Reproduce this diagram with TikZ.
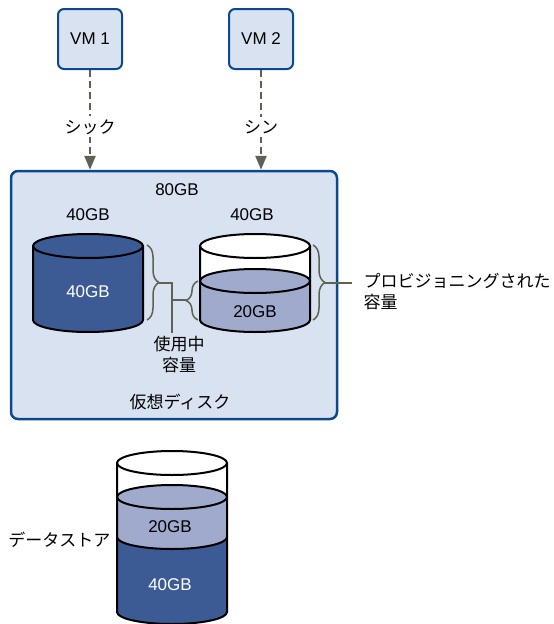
\documentclass[tikz,border=0pt]{standalone}
\usepackage{fontspec}
\setmainfont{Liberation Sans}
\newfontfamily\jpfont{Noto Sans CJK JP}
\usetikzlibrary{arrows.meta,positioning,calc,decorations.pathreplacing}
\definecolor{paleblue}{RGB}{217,226,240}
\definecolor{edgeblue}{RGB}{12,72,140}
\definecolor{diskblue}{RGB}{60,90,148}
\definecolor{usedlilac}{RGB}{160,170,204}
\definecolor{linkgray}{RGB}{95,98,80}

% cylinder pieces: centre x, top y, bottom y, colour
\newcommand{\drumfill}[4]{%
  \fill[#4] (#1-55,#2) rectangle (#1+55,#3);
  \fill[#4] (#1,#3) ellipse [x radius=55, y radius=12];}
\newcommand{\drumlid}[3]{%
  \filldraw[cylline, fill=#3] (#1,#2) ellipse [x radius=55, y radius=12];}
\newcommand{\drumside}[3]{%
  \draw[cylline] (#1-55,#2) -- (#1-55,#3)
    arc [start angle=180, end angle=0, x radius=55, y radius=12] -- (#1+55,#2);}
\newcommand{\drumseam}[2]{%
  \draw[cylline] (#1-55,#2) arc [start angle=180, end angle=0, x radius=55, y radius=12];}

\tikzset{
  every node/.style={font=\fontsize{17}{20}\selectfont},
  jp/.style={font=\fontsize{17}{20.5}\selectfont\jpfont, text=black},
  vmbox/.style={draw=edgeblue, line width=2pt, fill=paleblue, rounded corners=6pt,
    minimum width=64pt, minimum height=60pt},
  provlink/.style={linkgray, line width=2.5pt, dash pattern=on 7pt off 4pt,
    -{Triangle[length=14pt,width=11pt]}},
  bracket/.style={decorate, decoration={brace, amplitude=12pt}, linkgray, line width=1.5pt},
  pointer/.style={linkgray, line width=1.5pt},
  cylline/.style={draw=black, line width=2pt},
}

\begin{document}
\begin{tikzpicture}[x=1pt, y=-1pt]
\useasboundingbox (0,0) rectangle (554,624);

% virtual machines
\node[vmbox] (vm1) at (90,39) {VM 1};
\node[vmbox] (vm2) at (261,39) {VM 2};

% virtual disk panel
\node[draw=edgeblue, line width=2.5pt, fill=paleblue, rounded corners=7pt,
  minimum width=326pt, minimum height=248pt] (vdisk) at (174,295) {};
\node (total) at (177,190) {80GB};
\node (thicksize) at (88,215) {40GB};
\node (thinsize) at (252,215) {40GB};
\node[jp] (vdisklbl) at (180,402) {仮想ディスク};

\draw[provlink] (vm1) -- (vm1 |- vdisk.north)
  node[jp, pos=0.57, fill=white, inner sep=3pt] (thicklbl) {シック};
\draw[provlink] (vm2) -- (vm2 |- vdisk.north)
  node[jp, pos=0.57, fill=white, inner sep=3pt] (thinlbl) {シン};

% thick disk
\drumfill{88}{246}{320}{diskblue}
\drumlid{88}{246}{diskblue}
\drumside{88}{246}{320}
\node[white] (thickused) at (88,292) {40GB};

% thin disk
\drumfill{255}{281}{320}{usedlilac}
\drumfill{255}{246}{281}{white}
\drumlid{255}{281}{usedlilac}
\drumlid{255}{246}{white}
\drumside{255}{246}{320}
\node (thinused) at (255,312) {20GB};

% provisioned capacity
\draw[bracket] (313,245) -- (313,320);
\coordinate (provtip) at (325,283);
\node[jp, anchor=north west, align=left] (provlbl) at (360,270) {プロビジョニングされた\\容量};
\draw[pointer] (provtip) -- ($(provlbl.west |- provtip)+(-8,0)$);

% used capacity
\draw[bracket] (147,245) -- (147,320);
\draw[bracket] (198,320) -- (198,281);
\coordinate (usedtip1) at (159,283);
\coordinate (usedtip2) at (186,300);
\coordinate (usedjoin) at (172,283);
\node[jp, align=center, anchor=north] (usedlbl) at (179,333) {使用中\\容量};
\draw[pointer] (usedtip1) -- (usedjoin) -- (usedjoin |- usedlbl.north);
\draw[pointer] (usedjoin |- usedtip2) -- (usedtip2);

% datastore
\drumfill{172}{537}{612}{diskblue}
\drumfill{172}{497}{537}{usedlilac}
\drumfill{172}{463}{497}{white}
\drumseam{172}{537}
\drumlid{172}{497}{usedlilac}
\drumlid{172}{463}{white}
\drumside{172}{463}{612}
\node (dsfree) at (170,527) {20GB};
\node[white] (dsused) at (170,585) {40GB};
\node[jp, anchor=east] (dslbl) at (114,540) {データストア};
\end{tikzpicture}
\end{document}
